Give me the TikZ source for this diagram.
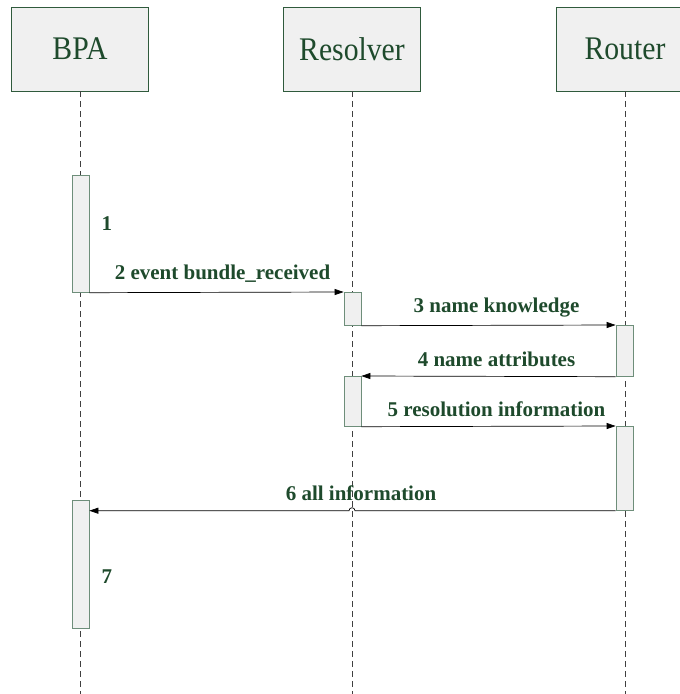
\documentclass[tikz,border=0pt]{standalone}
\usepackage{fontspec}
\setmainfont{Liberation Serif}
\usepackage{tikz}
\usetikzlibrary{arrows.meta,calc}
\definecolor{txtgreen}{HTML}{1E4A2C}
\definecolor{boxgreen}{HTML}{2F5A3C}
\definecolor{bargreen}{HTML}{6E8E7A}
\definecolor{boxfill}{HTML}{F0F0F0}
\newcommand{\headtext}[1]{\scalebox{0.9}[1]{#1}}
\tikzstyle{headbox} = [draw=boxgreen, line width=0.7pt, rectangle, fill=boxfill, minimum width=137pt, minimum height=84pt, text=txtgreen, font=\fontsize{33}{36}\selectfont]
\tikzstyle{lifeline} = [draw=black!75, line width=0.7pt, dash pattern=on 6pt off 4pt]
\tikzstyle{actbar} = [draw=bargreen, line width=0.7pt, rectangle, fill=boxfill, minimum width=17pt, inner sep=0pt, anchor=north]
\tikzstyle{msg} = [draw=black, line width=0.7pt, -{Triangle[length=9pt,width=6pt]}]
\tikzstyle{msglabel} = [text=txtgreen, font=\fontsize{21}{23}\selectfont\bfseries]

\begin{document}
\begin{tikzpicture}[x=1pt,y=-1pt]
\useasboundingbox (0,0) rectangle (680,694);
\clip (0,0) rectangle (680,694);
\coordinate (bottom) at (0,694);
% lifelines
\node [headbox] (bpa) at (80,49) {\headtext{BPA}};
\node [headbox] (res) at (352,49) {\headtext{Resolver}};
\node [headbox] (rou) at (625,49) {\headtext{Router}};
\draw [lifeline] (bpa.south) -- (bpa.south |- bottom);
\draw [lifeline] (res.south) -- (res.south |- bottom);
\draw [lifeline] (rou.south) -- (rou.south |- bottom);
% activations
\node [actbar, minimum height=117pt] (bpa1) at (80.5,175) {};
\node [actbar, minimum height=33pt] (res1) at (352.5,292) {};
\node [actbar, minimum height=51pt] (rou1) at (624.5,325) {};
\node [actbar, minimum height=50pt] (res2) at (352.5,376) {};
\node [actbar, minimum height=84pt] (rou2) at (624.5,426) {};
\node [actbar, minimum height=128pt] (bpa2) at (80.5,500) {};
\node [msglabel, anchor=west] (step1) at (98,224) {1};
\node [msglabel, anchor=west] (step7) at (98,577) {7};
% messages
\draw [msg] (bpa1.south east) -- (res1.north west) node [msglabel, midway, above=6pt, xshift=6pt] {2 event bundle\_received};
\draw [msg] (res1.south east) -- (rou1.north west) node [msglabel, midway, above=5pt, xshift=8pt] {3 name knowledge};
\draw [msg] (rou1.south west) -- (res2.north east) node [msglabel, midway, above=6pt, xshift=8pt] {4 name attributes};
\draw [msg] (res2.south east) -- (rou2.north west) node [msglabel, midway, above=6pt, xshift=8pt] {5 resolution information};
\coordinate (hop) at (res.south |- rou2.south west);
\draw [msg] (rou2.south west) -- ($(hop)+(3,0)$) arc [start angle=0, end angle=-180, radius=3] -- (bpa2.east |- rou2.south west);
\node [msglabel, above=6pt] (msg6) at ($(hop)+(9,0)$) {6 all information};
\end{tikzpicture}
\end{document}
